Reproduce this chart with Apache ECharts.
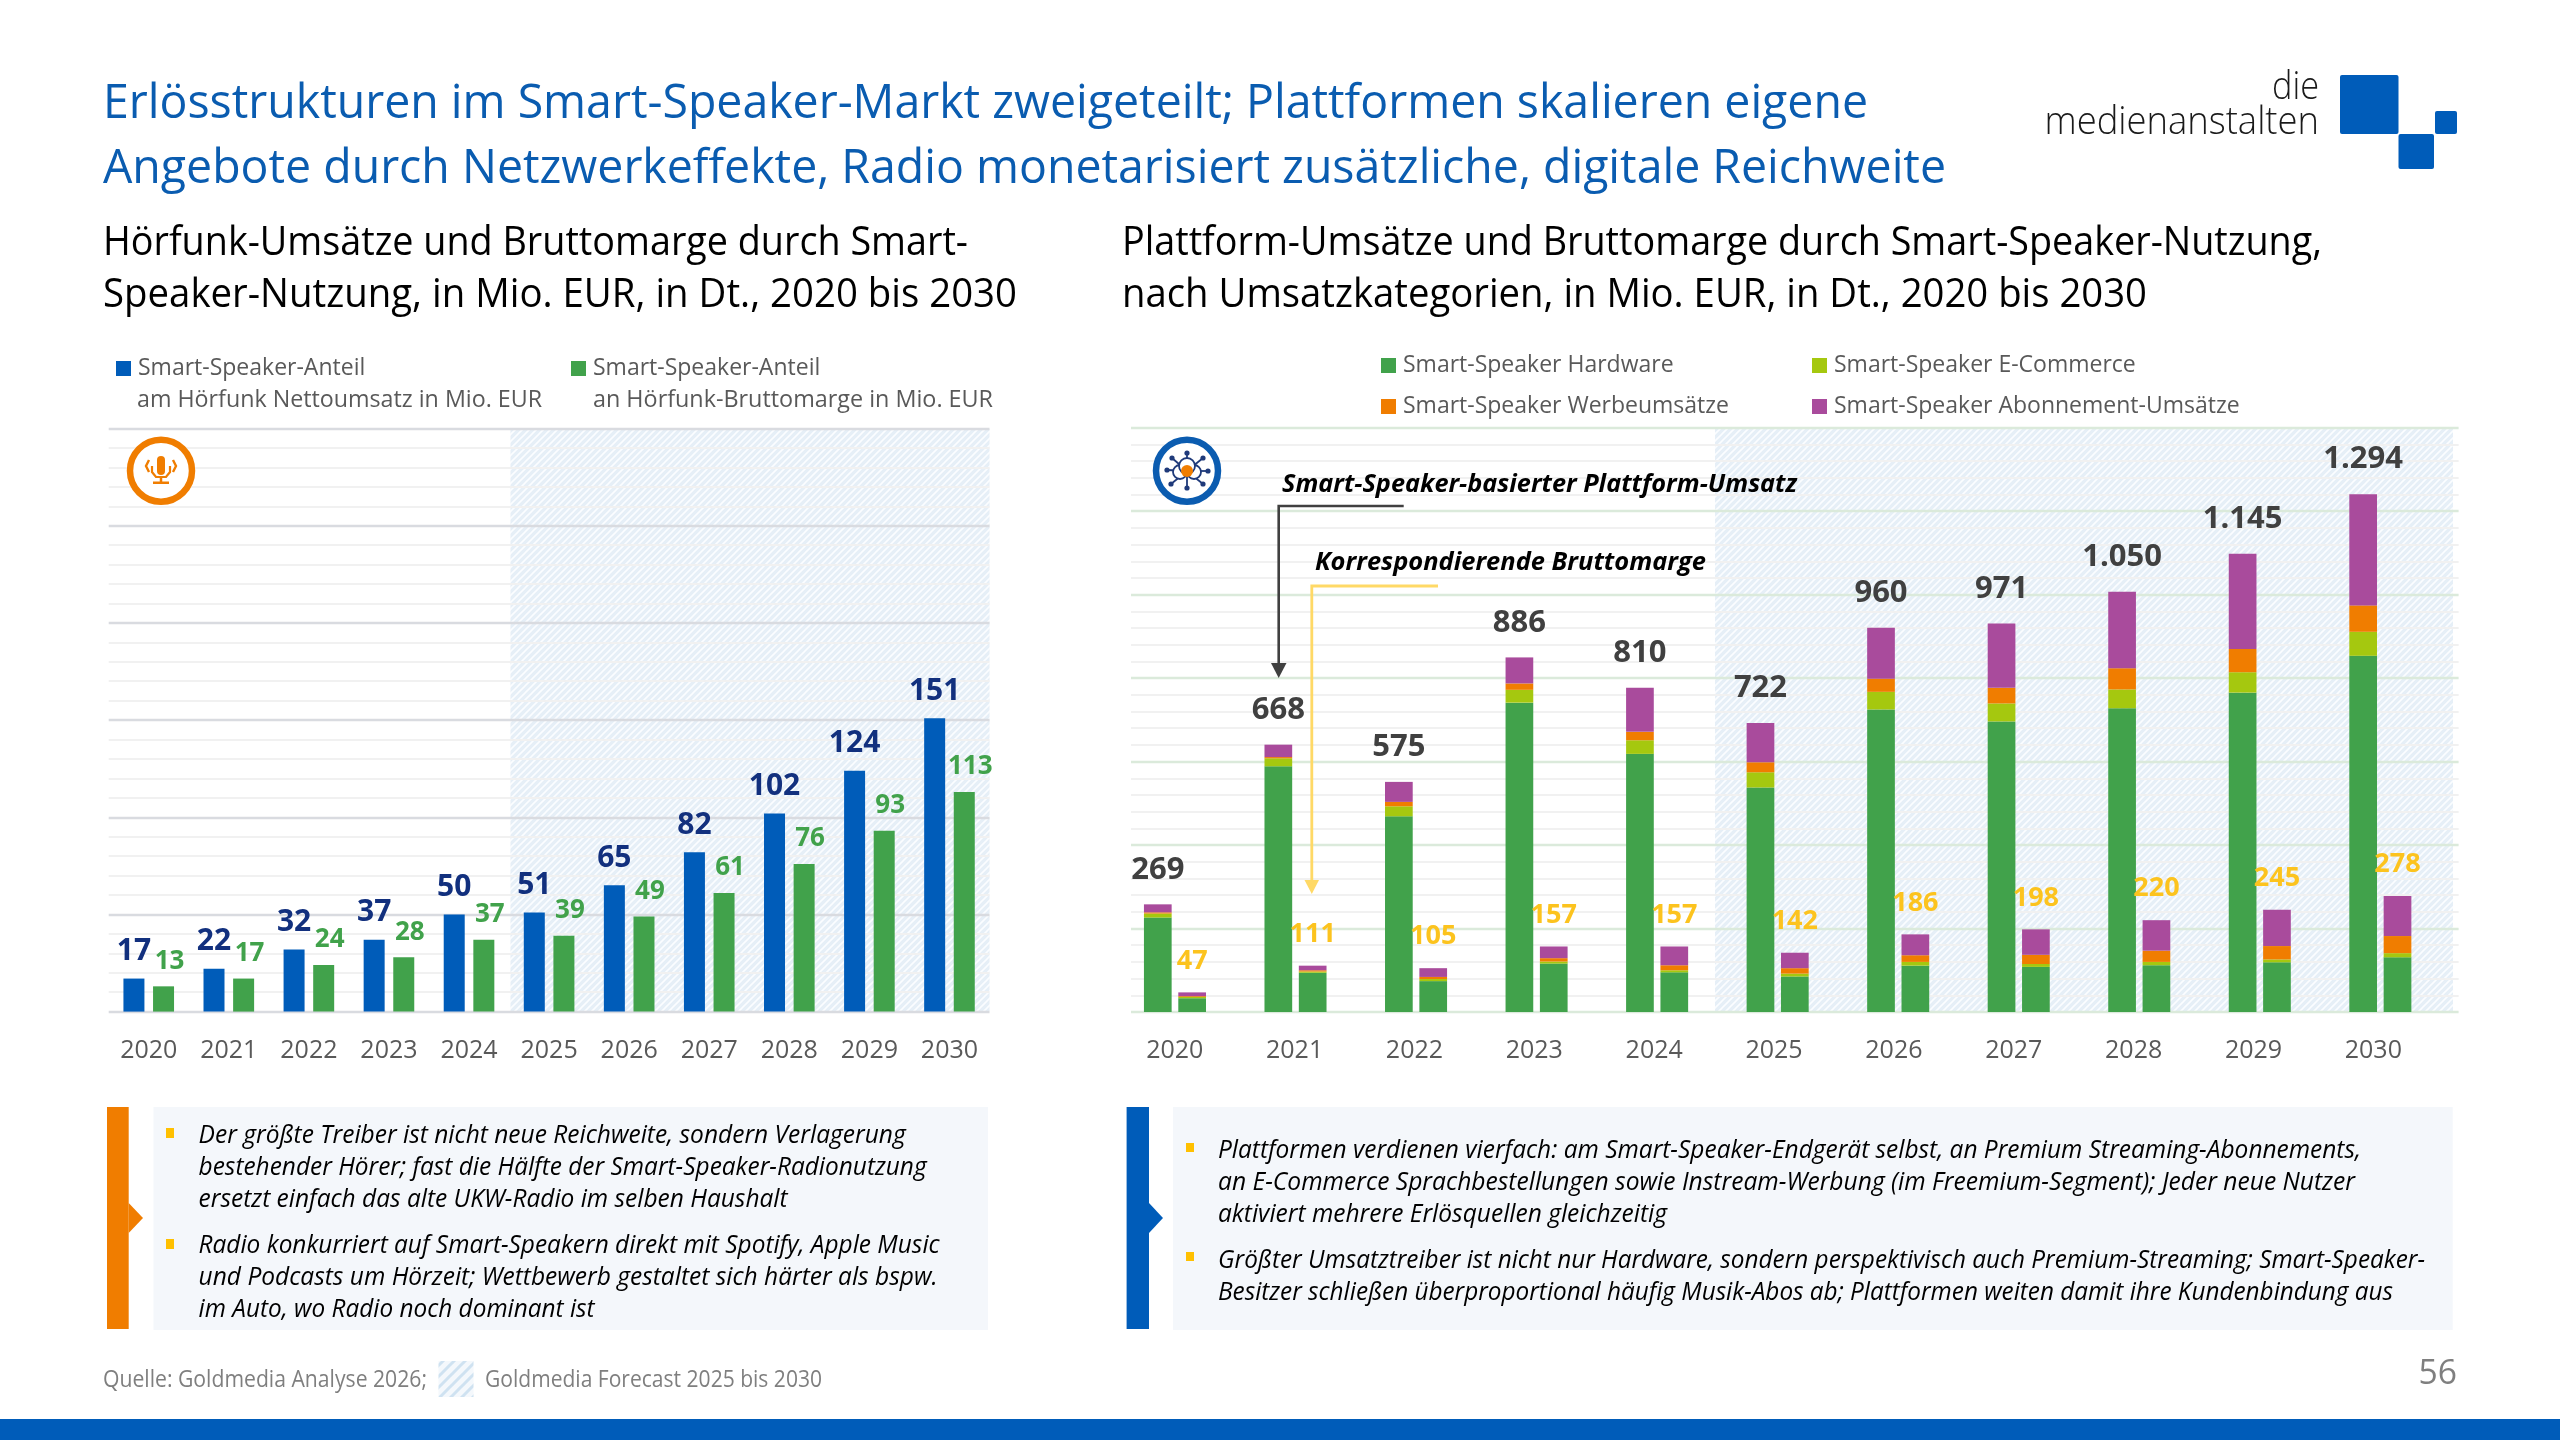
<!DOCTYPE html>
<html><head><meta charset="utf-8">
<style>html,body{margin:0;padding:0;background:#fff}#c{width:2560px;height:1440px}</style>
<script src="https://cdn.jsdelivr.net/npm/echarts@6/dist/echarts.min.js"></script>
</head><body><div id="c"></div>
<script>
const years = ['2020','2021','2022','2023','2024','2025','2026','2027','2028','2029','2030'];
// left chart
const radioRevenue = [17,22,32,37,50,51,65,82,102,124,151];
const radioMargin  = [13,17,24,28,37,39,49,61,76,93,113];
// right chart: platform revenue by category
const revHardware = [236,614,489,773,645,561,756,726,759,798,890];
const revEcommerce = [10,20,25,32,34,38,44,45,47,51,60];
const revAds = [3,3,11,16,21,25,33,39,53,58,66];
const revAbo = [20,31,50,65,110,98,127,161,191,238,278];
const revTotal = [269,668,575,886,810,722,960,971,1050,1145,1294];
// right chart: gross margin by category
const gmHardware = [33,94,74,116,95,85,111,108,112,119,131];
const gmEcommerce = [3,3,5,5,5,7,9,7,8,7,10];
const gmAds = [2,3,5,8,12,13,16,22,27,32,41];
const gmAbo = [9,11,21,28,45,37,50,61,73,87,96];
const gmTotal = [47,111,105,157,157,142,186,198,220,245,278];

const FONT = '"Open Sans"';
const C = {blue:'#005cb9', green:'#41a24b', lime:'#a5c80f', orange:'#f07d00', purple:'#a94b9c',
  grey:'#595959', navy:'#12307e', gold:'#ffc000', dark:'#404040'};

function hatch(size, bg, fg, lw){
  const cv=document.createElement('canvas'); cv.width=cv.height=size;
  const g=cv.getContext('2d'); g.fillStyle=bg; g.fillRect(0,0,size,size);
  g.strokeStyle=fg; g.lineWidth=lw; g.beginPath();
  g.moveTo(-1,1); g.lineTo(1,-1);
  g.moveTo(0,size); g.lineTo(size,0);
  g.moveTo(size-1,size+1); g.lineTo(size+1,size-1); g.stroke();
  return {image:cv, repeat:'repeat'};
}
const meas=document.createElement('canvas').getContext('2d');
// text on a given centre line; w = width it occupies in the reference
function T(text,x,y,size,o={}){
  const font=`${o.italic?'italic ':''}${o.weight||400} ${size}px ${FONT}`;
  meas.font=font; const mw=meas.measureText(text).width;
  const sx=o.w?o.w/mw:1;
  return {type:'text',x:x,y:y,scaleX:sx,z:o.z||20,silent:true,
    style:{text:text,font:font,fill:o.fill||'#000',align:'left',verticalAlign:'middle'}};
}
const rect=(x,y,w,h,fill,z=1,r=0)=>({type:'rect',z:z,silent:true,shape:{x,y,width:w,height:h,r},style:{fill}});
const poly=(pts,stroke,lw,z=20)=>({type:'polyline',z,silent:true,shape:{points:pts},style:{stroke,lineWidth:lw,fill:null}});
const tri=(pts,fill,z=20)=>({type:'polygon',z,silent:true,shape:{points:pts},style:{fill}});
const circ=(cx,cy,r,fill,stroke,lw,z=20)=>({type:'circle',z,silent:true,shape:{cx,cy,r},style:{fill:fill||null,stroke:stroke||null,lineWidth:lw||0}});

const g=[];
// footer, title, logo
g.push(rect(0,1419,2560,21,C.blue));
g.push(T('Erlösstrukturen im Smart-Speaker-Markt zweigeteilt; Plattformen skalieren eigene',103,104.5,48,{w:1765,fill:'#0a5cb0'}));
g.push(T('Angebote durch Netzwerkeffekte, Radio monetarisiert zusätzliche, digitale Reichweite',103,169.5,48,{w:1843,fill:'#0a5cb0'}));
g.push(T('Hörfunk-Umsätze und Bruttomarge durch Smart-',103,243.5,40,{w:865}));
g.push(T('Speaker-Nutzung, in Mio. EUR, in Dt., 2020 bis 2030',103,295.5,40,{w:914}));
g.push(T('Plattform-Umsätze und Bruttomarge durch Smart-Speaker-Nutzung,',1122,243.5,40,{w:1200}));
g.push(T('nach Umsatzkategorien, in Mio. EUR, in Dt., 2020 bis 2030',1122,295.5,40,{w:1025}));
g.push(T('die',2272,88,38,{w:47,fill:'#1a1a1a',weight:300}));
g.push(T('medienanstalten',2044.5,123,38,{w:274.5,fill:'#1a1a1a',weight:300}));
g.push(rect(2340,75,58.5,59,C.blue,1,2), rect(2398.5,134,35.5,35,C.blue,1,2), rect(2435,111,22,23,C.blue,1,2));
// forecast hatch
const hp=hatch(7,'#e6eff7','#fbfdff',1.6);
g.push({type:'rect',z:-1,silent:true,shape:{x:510.5,y:429,width:479,height:582},style:{fill:hp}});
g.push({type:'rect',z:-1,silent:true,shape:{x:1715,y:428,width:738,height:584},style:{fill:hp}});
g.push({type:'rect',z:1,silent:true,shape:{x:438.5,y:1361,width:35,height:36},style:{fill:hatch(11,'#f4f8fc','#cfe2f1',3)}});
// legend second line (left)
g.push(T('am Hörfunk Nettoumsatz in Mio. EUR',137,400.5,24,{w:405,fill:C.grey}));
g.push(T('an Hörfunk-Bruttomarge in Mio. EUR',593,400.5,24,{w:400,fill:C.grey}));
// icons
g.push(circ(161,470.7,31,'#fff',C.orange,6.5));
g.push(rect(157,456,8,19,C.orange,20,4), poly([[152,466],[152,472],[156,477],[166,477],[170,472],[170,466]],C.orange,2.2), poly([[161,477],[161,482]],C.orange,2.5), rect(153,481.5,16,2.5,C.orange,20));
g.push(poly([[149,460],[146,466],[149,472]],C.orange,2.4), poly([[173,460],[176,466],[173,472]],C.orange,2.4));
g.push(circ(1187,470.7,31,'#fff','#0b5cb0',6.5));
const net='#1f3a7a';
[[1187,453],[1203,458],[1208,471],[1203,484],[1187,488],[1171,484],[1167,470],[1172,458]].forEach(p=>{
  g.push(poly([[1187,471],[p[0],p[1]]],net,1.8), circ(p[0],p[1],2.6,net));
});
g.push(circ(1180,472,7,'#fff',net,1.8), circ(1194,472,7,'#fff',net,1.8), circ(1187,466,8,'#fff',net,1.8), circ(1187,471,6,C.orange));
// annotations
g.push(T('Smart-Speaker-basierter Plattform-Umsatz',1282,484.5,25,{w:515,weight:700,italic:true}));
g.push(T('Korrespondierende Bruttomarge',1315,562.5,25,{w:391,weight:700,italic:true}));
g.push(poly([[1403.7,506],[1278.7,506],[1278.7,665]],C.dark,2.6,15), tri([[1271,663],[1286.5,663],[1278.7,678]],C.dark,15));
g.push(poly([[1438,586],[1311.8,586],[1311.8,882]],'#ffd966',2.8,15), tri([[1304.5,880],[1319,880],[1311.8,894]],'#ffd966',15));
// commentary boxes
g.push(rect(153.5,1107,834.5,223,'#f4f7fb'), rect(107,1107,21.7,222,C.orange), tri([[128.7,1203],[143,1218],[128.7,1233]],C.orange,2));
g.push(rect(1173,1107,1279.7,223,'#f4f7fb'), rect(1126.6,1107,22.4,222,C.blue), tri([[1149,1203],[1163,1218],[1149,1233]],C.blue,2));
g.push(rect(166,1128,8,10,C.gold,2), rect(166,1239,8,10,C.gold,2), rect(1186,1143,8,9,C.gold,2), rect(1186,1252,8,9,C.gold,2));
[['Der größte Treiber ist nicht neue Reichweite, sondern Verlagerung',1135.5,707],
 ['bestehender Hörer; fast die Hälfte der Smart-Speaker-Radionutzung',1167.5,728],
 ['ersetzt einfach das alte UKW-Radio im selben Haushalt',1199.5,589],
 ['Radio konkurriert auf Smart-Speakern direkt mit Spotify, Apple Music',1245.5,741],
 ['und Podcasts um Hörzeit; Wettbewerb gestaltet sich härter als bspw.',1277.5,739],
 ['im Auto, wo Radio noch dominant ist',1309.5,396]].forEach(l=>g.push(T(l[0],198.6,l[1],25,{w:l[2],italic:true})));
[['Plattformen verdienen vierfach: am Smart-Speaker-Endgerät selbst, an Premium Streaming-Abonnements,',1150.5,1143],
 ['an E-Commerce Sprachbestellungen sowie Instream-Werbung (im Freemium-Segment); Jeder neue Nutzer',1182.5,1137],
 ['aktiviert mehrere Erlösquellen gleichzeitig',1214.5,449],
 ['Größter Umsatztreiber ist nicht nur Hardware, sondern perspektivisch auch Premium-Streaming; Smart-Speaker-',1260.5,1207],
 ['Besitzer schließen überproportional häufig Musik-Abos ab; Plattformen weiten damit ihre Kundenbindung aus',1292.5,1175]
].forEach(l=>g.push(T(l[0],1218,l[1],25,{w:l[2],italic:true})));
// source + page
g.push(T('Quelle: Goldmedia Analyse 2026;',103,1380.5,23,{w:324,fill:'#7f7f7f'}));
g.push(T('Goldmedia Forecast 2025 bis 2030',485,1380.5,23,{w:337,fill:'#7f7f7f'}));
g.push(T('56',2418.5,1374,35,{w:38.5,fill:'#7f7f7f'}));

const numDE=v=>String(v).replace(/\B(?=(\d{3})+$)/g,'.');
const leg=(name,left,top,fs,fmt)=>({show:true,data:[name],left,top,orient:'horizontal',selectedMode:false,itemWidth:15,itemHeight:15,
  icon:'rect',padding:0,formatter:fmt||'{name}',textStyle:{color:C.grey,fontFamily:FONT,fontSize:fs,padding:[0,0,0,2]}});
const hiddenY=(gridIndex,max)=>({type:'value',gridIndex,min:0,max,show:false,splitLine:{show:false}});
const gridY=(gridIndex,max,interval,major,minor)=>({type:'value',gridIndex,min:0,max,interval,
  axisLabel:{show:false},axisLine:{show:false},axisTick:{show:false},
  splitLine:{show:true,lineStyle:{color:major,width:2.4}},
  minorTick:{show:false,splitNumber:5},minorSplitLine:{show:true,lineStyle:{color:minor,width:2}}});
const xAxis=(gridIndex,show,margin)=>({type:'category',gridIndex,data:years,show,
  axisLine:{show:false},axisTick:{show:false},splitLine:{show:false},
  axisLabel:{color:C.grey,fontFamily:FONT,fontSize:25,margin}});

const NAME_L1='Smart-Speaker-Anteil am Hörfunk Nettoumsatz in Mio. EUR';
const NAME_L2='Smart-Speaker-Anteil an Hörfunk-Bruttomarge in Mio. EUR';
const NAMES=['Smart-Speaker Hardware','Smart-Speaker E-Commerce','Smart-Speaker Werbeumsätze','Smart-Speaker Abonnement-Umsätze'];
const COLS=[C.green,C.lime,C.orange,C.purple];

function stack(stackId,yIdx,arrs,totals,lab){
  return arrs.map((d,i)=>({type:'bar',name:NAMES[i],stack:stackId,xAxisIndex:2,yAxisIndex:yIdx,data:d,
    barWidth:27.7,barGap:'24%',itemStyle:{color:COLS[i]},
    label:i===3?{show:true,position:'top',distance:lab.distance,color:lab.color,fontFamily:FONT,fontWeight:700,fontSize:lab.size,
      formatter:p=>numDE(totals[p.dataIndex])}:{show:false}}));
}

const chart=echarts.init(document.getElementById('c'),null,{width:2560,height:1440});
chart.setOption({
  animation:false,backgroundColor:'#fff',
  grid:[
    {left:108.7,width:880.8,top:428.6,height:583},
    {left:1131,width:1327.6,top:427.7,height:584.3},
    {left:1114.7,width:1325.9,top:427.7,height:584.3},
    {left:1114.8,width:1318.5,top:427.7,height:584.3}
  ],
  xAxis:[xAxis(0,true,27),xAxis(1,false,0),xAxis(2,false,0),xAxis(3,true,26)],
  yAxis:[
    gridY(0,300,50,'#d9dbe0','#f1f1f1'),
    gridY(1,1400,200,'#dbeadb','#f1f1f1'),
    hiddenY(2,1460),
    hiddenY(2,1400),
    hiddenY(3,1400)
  ],
  legend:[
    leg(NAME_L1,116,357,23,()=>'Smart-Speaker-Anteil'),
    leg(NAME_L2,571,357,23,()=>'Smart-Speaker-Anteil'),
    leg(NAMES[0],1381,354,23),
    leg(NAMES[2],1381,395,23),
    leg(NAMES[1],1812,354,23),
    leg(NAMES[3],1812,395,23)
  ],
  series:[
    {type:'bar',name:NAME_L1,xAxisIndex:0,yAxisIndex:0,data:radioRevenue,barWidth:21,barGap:'41%',itemStyle:{color:C.blue},
      label:{show:true,position:'top',distance:12,color:C.navy,fontFamily:FONT,fontWeight:700,fontSize:30}},
    {type:'bar',name:NAME_L2,xAxisIndex:0,yAxisIndex:0,data:radioMargin,barWidth:21,barGap:'41%',itemStyle:{color:C.green},
      label:{show:true,position:'top',distance:12,offset:[6,0],color:C.green,fontFamily:FONT,fontWeight:700,fontSize:26}},
    ...stack('rev',2,[revHardware,revEcommerce,revAds,revAbo],revTotal,{distance:19,color:C.dark,size:31}),
    ...stack('gm',3,[gmHardware,gmEcommerce,gmAds,gmAbo],gmTotal,{distance:18,color:'#fcc31e',size:27})
  ],
  graphic:{elements:g}
});
</script></body></html>
